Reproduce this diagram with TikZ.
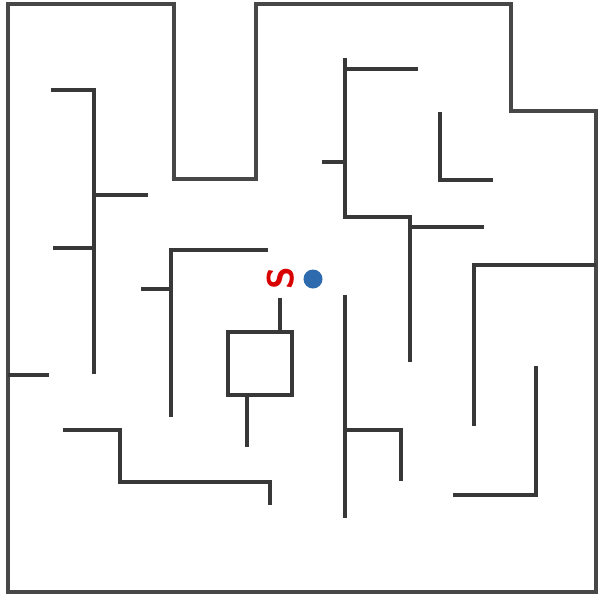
\documentclass[tikz,border=0pt]{standalone}
\usepackage[dvipsnames]{xcolor}
\usepackage{tikz}

\begin{document}
\begin{tikzpicture}[x=0.01cm, y=-0.01cm, line join=miter,
    wall/.style={line width=1pt, black!78},
    outer/.style={line width=1.15pt, black!72}]
  \useasboundingbox (0,0) rectangle (600,599);
  % outer border
  \draw[outer] (174,4) -- (8,4) -- (8,592) -- (596,592) -- (596,111) -- (511,111) -- (511,4) -- (256,4) -- (256,179) -- (174,179) -- cycle;
  % left comb
  \draw[wall] (51,90) -- (94,90) -- (94,374);
  \draw[wall] (94,195) -- (148,195);
  \draw[wall] (53,248) -- (94,248);
  \draw[wall] (8,375) -- (49,375);
  % middle left
  \draw[wall] (268,250) -- (171,250) -- (171,417);
  \draw[wall] (141,289) -- (171,289);
  \draw[wall] (63,430) -- (120,430) -- (120,482) -- (270,482) -- (270,505);
  % box with stubs
  \draw[wall] (228,332) rectangle (292,395);
  \draw[wall] (280,298) -- (280,332);
  \draw[wall] (247,395) -- (247,447);
  % upper right
  \draw[wall] (418,69) -- (345,69);
  \draw[wall] (345,58) -- (345,217) -- (410,217) -- (410,362);
  \draw[wall] (322,162) -- (345,162);
  \draw[wall] (410,227) -- (484,227);
  \draw[wall] (440,112) -- (440,180) -- (493,180);
  \draw[wall] (596,265) -- (474,265) -- (474,426);
  % lower right
  \draw[wall] (345,295) -- (345,518);
  \draw[wall] (345,430) -- (401,430) -- (401,481);
  \draw[wall] (536,366) -- (536,495) -- (453,495);
  % start marker
  \node[text=red!85!black, font=\sffamily\bfseries\fontsize{10.5}{10.5}\selectfont, rotate=90, inner sep=0pt] (start) at (281,278) {S};
  \node[circle, fill=RoyalBlue!85!black, inner sep=0pt, minimum size=0.19cm] (dot) at (313,279) {};
\end{tikzpicture}
\end{document}
